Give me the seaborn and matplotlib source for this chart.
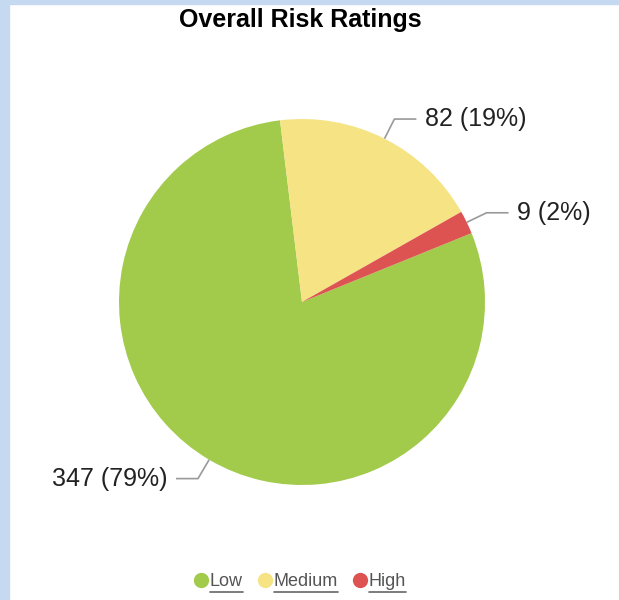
import numpy as np
import matplotlib
matplotlib.use("Agg")
import matplotlib.pyplot as plt
from matplotlib.lines import Line2D
from matplotlib.patches import Rectangle
import seaborn as sns

## data
categories = ['Low', 'Medium', 'High']
counts = [347, 82, 9]
colors = ['#a2ca4b', '#f6e384', '#dd5352']

sns.set_theme(style='white')
plt.rcParams['font.family'] = ['Liberation Sans', 'DejaVu Sans']

W, H = 619, 600
fig = plt.figure(figsize=(W / 100, H / 100), dpi=100)
fig.patch.set_facecolor('white')

# light blue frame on the top and left edges
fig.patches.append(Rectangle((0, 0), 9 / W, 1, transform=fig.transFigure,
                             color='#c5d9f1', zorder=0))
fig.patches.append(Rectangle((0, 1 - 4 / H), 1, 4 / H, transform=fig.transFigure,
                             color='#c5d9f1', zorder=0))

## pie axes: center (302, 302) px, radius 183 px
cx, cy, r = 302, 302, 183
ax = fig.add_axes([(cx - r) / W, (H - cy - r) / H, 2 * r / W, 2 * r / H])
total = sum(counts)
# Medium starts ~6.9 deg left of 12 o'clock, slices run clockwise
start = 90 - (360 * (counts[1] + counts[2]) / total - 6.9)
wedges, _ = ax.pie(counts, colors=colors, startangle=start, counterclock=False,
                   radius=1, wedgeprops=dict(linewidth=0))
ax.set_xlim(-1, 1)
ax.set_ylim(-1, 1)
ax.set_aspect('equal')
ax.axis('off')

## leader lines + labels
for w, n in zip(wedges, counts):
    mid = np.deg2rad((w.theta1 + w.theta2) / 2)
    x0, y0 = np.cos(mid) * 1.0, np.sin(mid) * 1.0
    x1, y1 = np.cos(mid) * 1.12, np.sin(mid) * 1.12
    side = 1 if x1 > 0 else -1
    x2 = x1 + side * 0.12
    ax.plot([x0, x1, x2], [y0, y1, y1], color='#999999', lw=1.2,
            clip_on=False, solid_capstyle='butt')
    pct = round(100 * n / total)
    ax.text(x2 + side * 0.045, y1, f'{n} ({pct}%)', fontsize=18,
            color='#222222', ha='left' if side > 0 else 'right',
            va='center', clip_on=False)

fig.text(300 / W, 1 - 20 / H, 'Overall Risk Ratings', fontsize=18,
         fontweight='bold', color='black', ha='center', va='center')

## legend with underlined labels
handles = [Line2D([], [], marker='o', ls='', markersize=11,
                  markerfacecolor=c, markeredgewidth=0) for c in colors]
leg = fig.legend(handles, categories, loc='center', ncol=3,
                 bbox_to_anchor=(298 / W, 1 - 582 / H), frameon=False,
                 fontsize=13, handletextpad=-0.1, columnspacing=0.6,
                 handlelength=1.2, borderpad=0)
for t in leg.get_texts():
    t.set_color('#555555')

fig.canvas.draw()
renderer = fig.canvas.get_renderer()
for t in leg.get_texts():
    bb = t.get_window_extent(renderer)
    yline = bb.y0 - 1
    fig.add_artist(Line2D([bb.x0 / W, bb.x1 / W], [yline / H, yline / H],
                          transform=fig.transFigure, color='#666666', lw=1.2))

fig.savefig('out.png', dpi=100)
